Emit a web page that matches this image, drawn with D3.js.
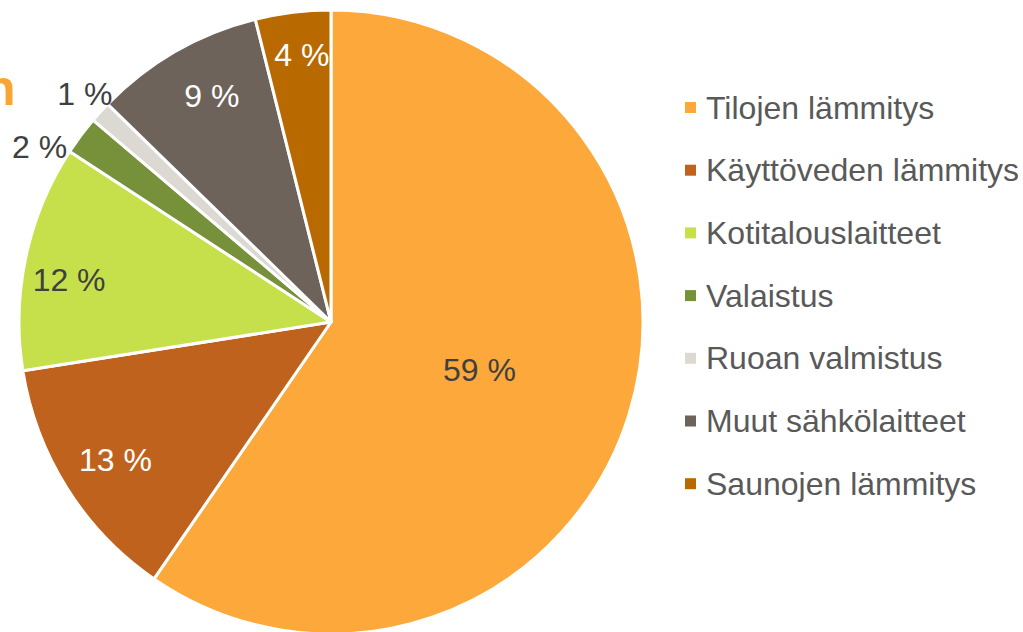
<!DOCTYPE html>
<html>
<head>
<meta charset="utf-8">
<script src="https://cdn.jsdelivr.net/npm/d3@7"></script>
<style>
  body { margin: 0; background: #fff; overflow: hidden; }
  svg { display: block; font-family: Arial, "Liberation Sans", sans-serif; }
</style>
</head>
<body>
<div id="chart"></div>
<script>
const categories = ["Tilojen lämmitys", "Käyttöveden lämmitys", "Kotitalouslaitteet", "Valaistus", "Ruoan valmistus", "Muut sähkölaitteet", "Saunojen lämmitys"];
const shares = [59.6, 12.9, 11.7, 2.0, 1.1, 8.8, 3.9];
const labels = ["59 %", "13 %", "12 %", "2 %", "1 %", "9 %", "4 %"];
const colors = ["#FDA83A", "#BE621E", "#C6E04B", "#76913A", "#DCD8D2", "#6E635A", "#B86A00"];
const labelColors = ["#404040", "#ffffff", "#404040", "#404040", "#404040", "#ffffff", "#ffffff"];
// label placement: distance as fraction of radius, and angle nudge in degrees
const labelRadius = [0.5, 0.82, 0.85, 1.09, 1.075, 0.82, 0.86];
const labelNudge = [0.6, -0.4, -3, -5.7, 0.5, 2.1, 0.8];

const width = 1023, height = 632;
const cx = 331, cy = 322, radius = 312;

const svg = d3.select("#chart").append("svg")
  .attr("width", width)
  .attr("height", height);

// cut-off title letter at the left edge (clipped in the original too)
svg.append("text")
  .attr("x", -15).attr("y", 105)
  .attr("fill", "#F9A533")
  .attr("font-weight", "bold")
  .attr("font-size", 50)
  .text("n");

const pie = d3.pie().sort(null).value(d => d)(shares);
const arc = d3.arc().innerRadius(0).outerRadius(radius);

const g = svg.append("g").attr("transform", `translate(${cx},${cy})`);

g.selectAll("path")
  .data(pie)
  .enter().append("path")
    .attr("d", arc)
    .attr("fill", (d, i) => colors[i])
    .attr("stroke", "#fff")
    .attr("stroke-width", 3)
    .attr("stroke-linejoin", "round");

g.selectAll("text.lbl")
  .data(pie)
  .enter().append("text")
    .attr("class", "lbl")
    .attr("transform", (d, i) => {
      const a = (d.startAngle + d.endAngle) / 2 + labelNudge[i] * Math.PI / 180;
      const r = radius * labelRadius[i];
      return `translate(${Math.sin(a) * r},${-Math.cos(a) * r})`;
    })
    .attr("text-anchor", "middle")
    .attr("dy", "0.35em")
    .attr("font-size", 32)
    .attr("fill", (d, i) => labelColors[i])
    .text((d, i) => labels[i]);

// legend
const legend = svg.append("g").attr("transform", "translate(685,107)");
const rows = legend.selectAll("g")
  .data(categories)
  .enter().append("g")
    .attr("transform", (d, i) => `translate(0,${i * 62.7})`);

rows.append("rect")
  .attr("x", 0).attr("y", -5)
  .attr("width", 11).attr("height", 11)
  .attr("fill", (d, i) => colors[i]);

rows.append("text")
  .attr("x", 21)
  .attr("dy", "0.36em")
  .attr("font-size", 32)
  .attr("fill", "#595959")
  .text(d => d);
</script>
</body>
</html>
